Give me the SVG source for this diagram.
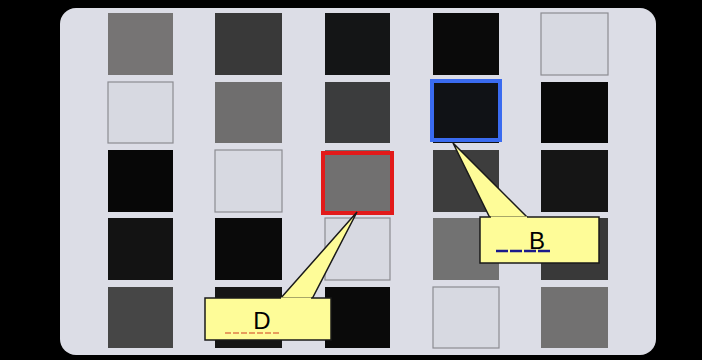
<svg xmlns="http://www.w3.org/2000/svg" width="702" height="360" viewBox="0 0 702 360">
<style>
.lt{fill:#d7d9e1;stroke:#8c8c92;stroke-width:1.2}
.call{fill:#fefc98;stroke:#1a1a1a;stroke-width:1.5}
.lbl{font-family:"Liberation Sans",Arial,sans-serif;font-size:24px;fill:#000;text-anchor:middle}
</style>
<rect x="0" y="0" width="702" height="360" fill="#000"/>
<rect x="60" y="8" width="596" height="347" rx="16" fill="#dcdde6"/>
<g id="grid">
<rect x="108" y="13" width="65" height="62" fill="#767474"/>
<rect x="215" y="13" width="67" height="62" fill="#393939"/>
<rect x="325" y="13" width="65" height="62" fill="#141516"/>
<rect x="433" y="13" width="66" height="62" fill="#0a0a0a"/>
<rect x="541" y="13" width="67" height="62" class="lt"/>

<rect x="108" y="82" width="65" height="61" class="lt"/>
<rect x="215" y="82" width="67" height="61" fill="#6f6e6e"/>
<rect x="325" y="82" width="65" height="61" fill="#3b3c3d"/>
<rect x="433" y="82" width="66" height="61" fill="#101216"/>
<rect x="541" y="82" width="67" height="61" fill="#080808"/>

<rect x="108" y="150" width="65" height="62" fill="#070707"/>
<rect x="215" y="150" width="67" height="62" class="lt"/>
<rect x="325" y="150" width="65" height="62" fill="#717070"/>
<rect x="433" y="150" width="66" height="62" fill="#3d3d3d"/>
<rect x="541" y="150" width="67" height="62" fill="#151515"/>

<rect x="108" y="218" width="65" height="62" fill="#131313"/>
<rect x="215" y="218" width="67" height="62" fill="#0a0a0a"/>
<rect x="325" y="218" width="65" height="62" class="lt"/>
<rect x="433" y="218" width="66" height="62" fill="#727272"/>
<rect x="541" y="218" width="67" height="62" fill="#393939"/>

<rect x="108" y="287" width="65" height="61" fill="#464646"/>
<rect x="215" y="287" width="67" height="61" fill="#151515"/>
<rect x="325" y="287" width="65" height="61" fill="#0a0a0a"/>
<rect x="433" y="287" width="66" height="61" class="lt"/>
<rect x="541" y="287" width="67" height="61" fill="#727171"/>
</g>
<g id="highlights">
<rect x="323" y="153" width="69" height="60" fill="none" stroke="#e21a1a" stroke-width="4"/>
<rect x="432" y="81" width="68" height="59" fill="none" stroke="#3a6bf0" stroke-width="4"/>
</g>
<g id="callout-B">
<polygon points="453,143 490,218 528,218" class="call"/>
<rect x="480" y="217" width="119" height="46" class="call"/>
<line x1="491" y1="218" x2="527" y2="218" stroke="#fefc98" stroke-width="3"/>
<text x="537" y="249" class="lbl">B</text>
<line x1="496" y1="251" x2="551" y2="251" stroke="#1a1a8a" stroke-width="2.5" stroke-dasharray="12,2"/>
</g>
<g id="callout-D">
<polygon points="357,212 280,299 312,299" class="call"/>
<rect x="205" y="298" width="126" height="42" class="call"/>
<line x1="281" y1="299" x2="311" y2="299" stroke="#fefc98" stroke-width="3"/>
<text x="262" y="329" class="lbl">D</text>
<line x1="225" y1="333" x2="280" y2="333" stroke="#d04020" stroke-width="1" stroke-dasharray="6,2"/>
</g>
</svg>
